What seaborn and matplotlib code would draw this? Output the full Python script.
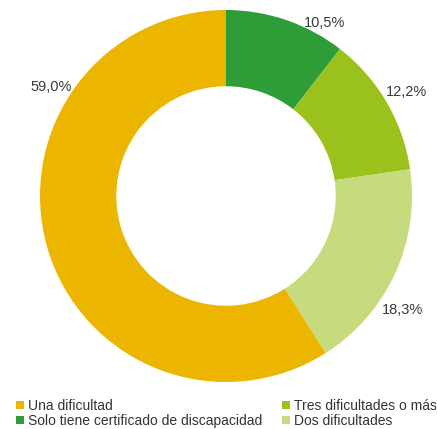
import numpy as np
import matplotlib
matplotlib.use("Agg")
import matplotlib.pyplot as plt
import seaborn as sns

# slices in drawing order (clockwise from 12 o'clock)
categories = ["Solo tiene certificado de discapacidad", "Tres dificultades o más",
              "Dos dificultades", "Una dificultad"]
values = [10.5, 12.2, 18.3, 59.0]
value_labels = ["10,5%", "12,2%", "18,3%", "59,0%"]

# legend entries, column by column (rows read: Una / Tres, Solo / Dos)
legend_order = ["Una dificultad", "Solo tiene certificado de discapacidad",
                "Tres dificultades o más", "Dos dificultades"]

sns.set_theme(style="white")
plt.rcParams['font.family'] = ['Liberation Sans', 'DejaVu Sans']

colors = {"Solo tiene certificado de discapacidad": "#2E9C37",
          "Tres dificultades o más": "#9BC11C",
          "Dos dificultades": "#C6DA7E",
          "Una dificultad": "#ECB500"}

# where the value labels sit: angle clockwise from top (deg), radius (R=1)
label_pos = [(29.8, 1.07), (60.0, 1.12), (123.0, 1.13), (302.0, 1.11)]

fig = plt.figure(figsize=(4.37, 4.29), dpi=100)
W, H = 437, 429
cx, cy, R = 226, 196, 186
ax = fig.add_axes([(cx - R) / W, (H - cy - R) / H, 2 * R / W, 2 * R / H])

wedges, _ = ax.pie(values, colors=[colors[c] for c in categories],
                   startangle=90, counterclock=False, radius=1,
                   wedgeprops=dict(width=0.41, linewidth=0))
ax.set_xlim(-1, 1)
ax.set_ylim(-1, 1)
ax.set_aspect("equal")
ax.axis("off")

for lab, (ang, r) in zip(value_labels, label_pos):
    t = np.deg2rad(ang)
    ax.text(r * np.sin(t), r * np.cos(t), lab, ha="center", va="center",
            fontsize=10.5, color="#3a3a3a", clip_on=False)

handles = [wedges[categories.index(c)] for c in legend_order]
leg = fig.legend(handles, legend_order, loc="lower left", ncol=2,
                 bbox_to_anchor=(0.037, 0.003), frameon=False,
                 fontsize=10, handlelength=0.55, handleheight=0.55,
                 handletextpad=0.3, columnspacing=1.45, labelspacing=0.05,
                 borderaxespad=0.0, borderpad=0.0)
for t in leg.get_texts():
    t.set_color("#333333")

fig.savefig("out.png", dpi=100)
